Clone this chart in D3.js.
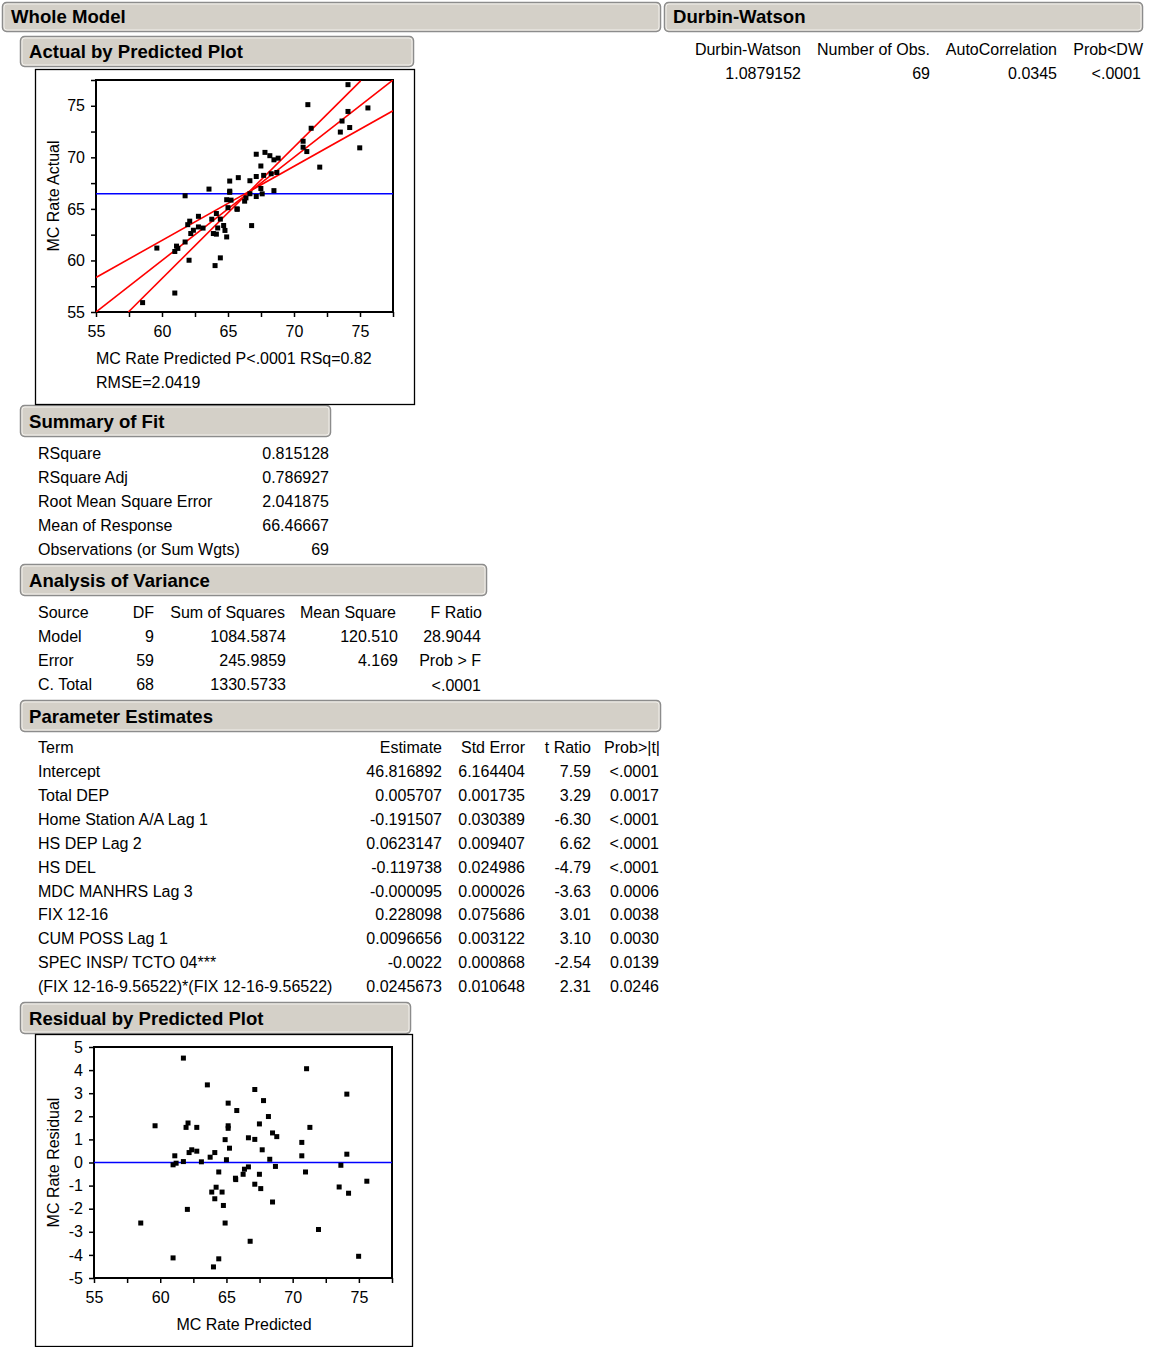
<!DOCTYPE html>
<html>
<head>
<meta charset="utf-8">
<script src="https://cdn.jsdelivr.net/npm/d3@7"></script>
<style>
  body { margin: 0; background: #fff; }
  svg { display: block; font-family: "Liberation Sans", Arial, sans-serif; }
  .tick text { font-size: 16px; fill: #000; }
</style>
</head>
<body>
<svg id="report" width="1151" height="1347"></svg>
<script>
// ---- data ----
const predicted = [61.75, 58.53, 59.61, 60.97, 60.97, 61.10, 61.20, 61.75, 61.95, 62.10,
  62.05, 62.18, 62.38, 62.76, 62.76, 63.11, 63.56, 63.77, 63.89, 64.12,
  64.02, 64.12, 64.22, 64.42, 64.42, 64.67, 64.77, 64.90, 64.90, 65.00,
  65.13, 65.13, 65.13, 65.23, 65.68, 65.70, 65.78, 66.26, 66.36, 66.66,
  66.66, 66.79, 67.14, 67.14, 67.14, 67.49, 67.49, 67.59, 67.70, 67.80,
  68.17, 68.27, 68.48, 68.48, 68.80, 68.70, 70.69, 70.69, 70.97, 71.05,
  71.30, 71.95, 73.51, 73.64, 74.09, 74.09, 74.22, 74.98, 75.60];
const residual = [4.52, -2.62, 1.59, -4.13, -0.10, 0.29, -0.03, 0.04, 1.52, 1.71,
  -2.03, 0.43, 0.55, 1.52, 0.49, 0.03, 3.36, 0.23, -1.28, 0.43,
  -4.52, -1.57, -1.07, -4.17, -0.41, -1.28, -1.86, 0.99, -2.62, 0.12,
  2.57, 1.59, 1.48, 0.62, -0.68, -0.74, 2.25, -0.51, -0.29, -0.19,
  1.07, -3.41, 3.16, 1.00, -0.94, 1.67, -0.51, -1.13, 0.55, 2.68,
  1.99, 0.14, 1.28, -1.71, 1.12, -0.17, 0.87, 0.29, -0.41, 4.06,
  1.52, -2.90, -1.06, -0.12, 2.96, 0.36, -1.33, -4.06, -0.81];
const actual = [66.27, 55.91, 61.20, 56.84, 60.87, 61.39, 61.17, 61.79, 63.47, 63.81,
  60.02, 62.61, 62.93, 64.28, 63.25, 63.14, 66.92, 64.00, 62.61, 64.55,
  59.50, 62.55, 63.15, 60.25, 64.01, 63.39, 62.91, 65.89, 62.28, 65.12,
  67.70, 66.72, 66.61, 65.85, 65.00, 64.96, 68.03, 65.75, 66.07, 66.47,
  67.73, 63.38, 70.30, 68.14, 66.20, 69.16, 66.98, 66.46, 68.25, 70.48,
  70.16, 68.41, 69.76, 66.77, 69.92, 68.53, 71.56, 70.98, 70.56, 75.11,
  72.82, 69.05, 72.45, 73.52, 77.05, 74.45, 72.89, 70.92, 74.79];

const meanResponse = 66.46667;
const fitLine = [[55, 55], [77.5, 77.5]];
const confLower = [[55, 58.35], [77.5, 74.52]];
const confUpper = [[57.45, 55], [75.05, 77.42]];

const plotTicks = [55, 57.5, 60, 62.5, 65, 67.5, 70, 72.5, 75, 77.5];
const residTicks = [-5, -4, -3, -2, -1, 0, 1, 2, 3, 4, 5];

const summaryLabels = ['RSquare', 'RSquare Adj', 'Root Mean Square Error', 'Mean of Response', 'Observations (or Sum Wgts)'];
const summaryValues = ['0.815128', '0.786927', '2.041875', '66.46667', '69'];

const anovaHeader = ['Source', 'DF', 'Sum of Squares', 'Mean Square', 'F Ratio'];
const anovaSource = ['Model', 'Error', 'C. Total'];
const anovaDF = ['9', '59', '68'];
const anovaSS = ['1084.5874', '245.9859', '1330.5733'];
const anovaMS = ['120.510', '4.169', ''];
const anovaF = ['28.9044', 'Prob > F', '<.0001'];

const paramHeader = ['Term', 'Estimate', 'Std Error', 't Ratio', 'Prob>|t|'];
const paramTerms = ['Intercept', 'Total DEP', 'Home Station A/A Lag 1', 'HS DEP Lag 2', 'HS DEL',
  'MDC MANHRS Lag 3', 'FIX 12-16', 'CUM POSS Lag 1', 'SPEC INSP/ TCTO  04***',
  '(FIX 12-16-9.56522)*(FIX 12-16-9.56522)'];
const paramEstimates = ['46.816892', '0.005707', '-0.191507', '0.0623147', '-0.119738',
  '-0.000095', '0.228098', '0.0096656', '-0.0022', '0.0245673'];
const paramStdErrors = ['6.164404', '0.001735', '0.030389', '0.009407', '0.024986',
  '0.000026', '0.075686', '0.003122', '0.000868', '0.010648'];
const paramTRatios = ['7.59', '3.29', '-6.30', '6.62', '-4.79', '-3.63', '3.01', '3.10', '-2.54', '2.31'];
const paramProbs = ['<.0001', '0.0017', '<.0001', '<.0001', '<.0001', '0.0006', '0.0038', '0.0030', '0.0139', '0.0246'];

const dwHeader = ['Durbin-Watson', 'Number of Obs.', 'AutoCorrelation', 'Prob<DW'];
const dwValues = ['1.0879152', '69', '0.0345', '<.0001'];

// ---- drawing ----
const svg = d3.select('#report');

function outlineHeader(x, y, w, h, label) {
  const g = svg.append('g');
  g.append('rect')
    .attr('x', x + 0.5).attr('y', y + 0.5)
    .attr('width', w).attr('height', h)
    .attr('rx', 4)
    .attr('fill', '#d4d0c8')
    .attr('stroke', '#8c8c8c')
    .attr('stroke-width', 1.5);
  g.append('rect')
    .attr('x', x + 2).attr('y', y + 2)
    .attr('width', w - 3).attr('height', h - 3)
    .attr('rx', 3)
    .attr('fill', 'none')
    .attr('stroke', '#f2f0ec')
    .attr('stroke-width', 1);
  g.append('text')
    .attr('x', x + 9).attr('y', y + h - 8)
    .attr('font-size', 18.6)
    .attr('font-weight', 'bold')
    .attr('fill', '#000')
    .text(label);
}

function label(x, y, txt, anchor = 'start', size = 16) {
  svg.append('text')
    .attr('x', x).attr('y', y)
    .attr('text-anchor', anchor)
    .attr('font-size', size)
    .attr('fill', '#000')
    .text(txt);
}

outlineHeader(2, 2, 658, 29, 'Whole Model');
outlineHeader(664, 2, 478, 29, 'Durbin-Watson');
outlineHeader(20, 36, 393, 30, 'Actual by Predicted Plot');
outlineHeader(20, 405, 310, 31, 'Summary of Fit');
outlineHeader(20, 564, 466, 31, 'Analysis of Variance');
outlineHeader(20, 700, 640, 31, 'Parameter Estimates');
outlineHeader(20, 1002, 390, 31, 'Residual by Predicted Plot');

// Durbin-Watson table
const dwRight = [801, 930, 1057, 1143];
dwHeader.forEach((h, i) => label(dwRight[i], 55, h, 'end'));
dwValues.forEach((v, i) => label(dwRight[i] - (i === 3 ? 2 : 0), 79, v, 'end'));

// ---- scatter plot frame + axes ----
function scatterPlot(opts) {
  const { box, area, xDomain, yDomain, yTicks, yLabelEvery, yTitle } = opts;
  svg.append('rect')
    .attr('x', box.x + 0.5).attr('y', box.y + 0.5)
    .attr('width', box.w).attr('height', box.h)
    .attr('fill', '#fff').attr('stroke', '#000').attr('stroke-width', 1.3);

  const x = d3.scaleLinear().domain(xDomain).range([area.left, area.right]);
  const y = d3.scaleLinear().domain(yDomain).range([area.bottom, area.top]);

  svg.append('g')
    .attr('transform', `translate(0,${area.bottom})`)
    .call(d3.axisBottom(x).tickValues(plotTicks).tickSize(5).tickPadding(9)
      .tickFormat(d => d % 5 === 0 ? d : ''))
    .call(g => g.select('.domain').remove())
    .call(g => g.selectAll('.tick line').attr('stroke', '#000').attr('stroke-width', 1.5));

  svg.append('g')
    .attr('transform', `translate(${area.left},0)`)
    .call(d3.axisLeft(y).tickValues(yTicks).tickSize(5).tickPadding(6)
      .tickFormat(d => d % yLabelEvery === 0 ? d : ''))
    .call(g => g.select('.domain').remove())
    .call(g => g.selectAll('.tick line').attr('stroke', '#000').attr('stroke-width', 1.5));

  svg.append('rect')
    .attr('x', area.left).attr('y', area.top)
    .attr('width', area.right - area.left).attr('height', area.bottom - area.top)
    .attr('fill', 'none').attr('stroke', '#000').attr('stroke-width', 2);

  svg.append('text')
    .attr('transform', `translate(${box.x + 24},${(area.top + area.bottom) / 2}) rotate(-90)`)
    .attr('text-anchor', 'middle')
    .attr('font-size', 16)
    .text(yTitle);

  const clip = 'clip' + Math.round(area.top);
  svg.append('clipPath').attr('id', clip)
    .append('rect')
    .attr('x', area.left).attr('y', area.top)
    .attr('width', area.right - area.left).attr('height', area.bottom - area.top);

  const plotG = svg.append('g').attr('clip-path', `url(#${clip})`);
  return { x, y, plotG };
}

// ---- Actual by Predicted plot ----
const ap = scatterPlot({
  box: { x: 35, y: 69, w: 379, h: 335 },
  area: { left: 96, right: 393, top: 80, bottom: 312 },
  xDomain: [55, 77.5], yDomain: [55, 77.5],
  yTicks: plotTicks, yLabelEvery: 5,
  yTitle: 'MC Rate Actual'
});

const line = d3.line().x(d => ap.x(d[0])).y(d => ap.y(d[1]));
ap.plotG.append('path')
  .datum([[55, meanResponse], [77.5, meanResponse]])
  .attr('d', line).attr('fill', 'none').attr('stroke', '#0000ff').attr('stroke-width', 1.6);
[fitLine, confLower, confUpper].forEach(seg => {
  ap.plotG.append('path')
    .datum(seg)
    .attr('d', line).attr('fill', 'none').attr('stroke', '#ff0000').attr('stroke-width', 1.6);
});
ap.plotG.selectAll('.pt')
  .data(predicted.map((p, i) => [p, actual[i]]))
  .enter().append('rect')
  .attr('x', d => ap.x(d[0]) - 2.5)
  .attr('y', d => ap.y(d[1]) - 2.5)
  .attr('width', 5).attr('height', 5)
  .attr('fill', '#000');

label(96, 364, 'MC Rate Predicted P<.0001 RSq=0.82');
label(96, 388, 'RMSE=2.0419');

// ---- Summary of Fit ----
summaryLabels.forEach((t, i) => {
  label(38, 459 + i * 24, t);
  label(329, 459 + i * 24, summaryValues[i], 'end');
});

// ---- Analysis of Variance ----
label(38, 618, anovaHeader[0]);
label(154, 618, anovaHeader[1], 'end');
label(285, 618, anovaHeader[2], 'end');
label(396, 618, anovaHeader[3], 'end');
label(482, 618, anovaHeader[4], 'end');
anovaSource.forEach((s, i) => {
  const yy = 642 + i * 24;
  label(38, yy, s);
  label(154, yy, anovaDF[i], 'end');
  label(286, yy, anovaSS[i], 'end');
  label(398, yy, anovaMS[i], 'end');
  label(481, yy + (i === 2 ? 1 : 0), anovaF[i], 'end');
});

// ---- Parameter Estimates ----
const pCols = [442, 525, 591, 660];
label(38, 753, paramHeader[0]);
paramHeader.slice(1).forEach((h, i) => label(pCols[i], 753, h, 'end'));
paramTerms.forEach((t, i) => {
  const yy = 777 + i * 23.9;
  label(38, yy, t);
  label(pCols[0], yy, paramEstimates[i], 'end');
  label(pCols[1], yy, paramStdErrors[i], 'end');
  label(pCols[2], yy, paramTRatios[i], 'end');
  label(pCols[3] - 1, yy, paramProbs[i], 'end');
});

// ---- Residual by Predicted plot ----
const rp = scatterPlot({
  box: { x: 35, y: 1034, w: 377, h: 312 },
  area: { left: 94, right: 392, top: 1047, bottom: 1278 },
  xDomain: [55, 77.5], yDomain: [-5, 5],
  yTicks: residTicks, yLabelEvery: 1,
  yTitle: 'MC Rate Residual'
});
const rline = d3.line().x(d => rp.x(d[0])).y(d => rp.y(d[1]));
rp.plotG.append('path')
  .datum([[55, 0], [77.5, 0]])
  .attr('d', rline).attr('fill', 'none').attr('stroke', '#0000ff').attr('stroke-width', 1.6);
rp.plotG.selectAll('.pt')
  .data(predicted.map((p, i) => [p, residual[i]]))
  .enter().append('rect')
  .attr('x', d => rp.x(d[0]) - 2.5)
  .attr('y', d => rp.y(d[1]) - 2.5)
  .attr('width', 5).attr('height', 5)
  .attr('fill', '#000');

svg.append('text')
  .attr('x', (94 + 392) / 2 + 1).attr('y', 1330)
  .attr('text-anchor', 'middle')
  .attr('font-size', 16)
  .text('MC Rate Predicted');
</script>
</body>
</html>
